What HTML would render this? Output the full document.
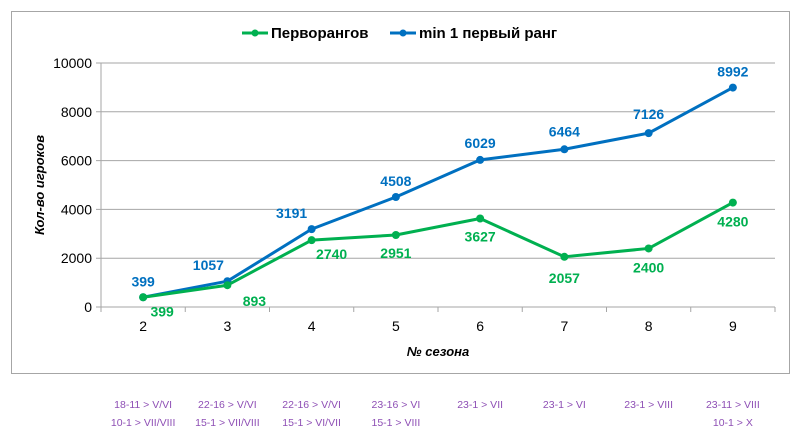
<!DOCTYPE html>
<html><head><meta charset="utf-8"><style>
body{margin:0;background:#fff;}
svg{display:block;font-family:"Liberation Sans","DejaVu Sans",sans-serif;}
</style></head><body>
<svg width="800" height="442" viewBox="0 0 800 442">
<rect x="11.5" y="11.5" width="778" height="362" fill="#fff" stroke="#a6a6a6"/>
<g id="grid"></g><g id="axes"></g><g id="series"></g><g id="labels"></g>
<g font-weight="bold" font-size="15">
<g><line x1="242" y1="33" x2="268" y2="33" stroke="#00b050" stroke-width="3"/><circle cx="255" cy="33" r="3.5" fill="#00b050"/><text x="271" y="38" fill="#000">Перворангов</text></g>
<g><line x1="390" y1="33" x2="416" y2="33" stroke="#0070c0" stroke-width="3"/><circle cx="403" cy="33" r="3.5" fill="#0070c0"/><text x="419" y="38" fill="#000">min 1 первый ранг</text></g>
</g>
<text x="438" y="356" text-anchor="middle" font-size="13" font-weight="bold" font-style="italic">№ сезона</text>
<text transform="translate(44,185) rotate(-90)" text-anchor="middle" font-size="13" font-weight="bold" font-style="italic">Кол-во игроков</text>
<g id="notes" font-size="10.5" fill="#8e4fb5" text-anchor="middle"></g>
</svg>
<script>
const categories=["2","3","4","5","6","7","8","9"];
const firstRank=[399,893,2740,2951,3627,2057,2400,4280];
const minOne=[399,1057,3191,4508,6029,6464,7126,8992];
const yTicks=[0,2000,4000,6000,8000,10000];
const notes1=["18-11 > V/VI","22-16 > V/VI","22-16 > V/VI","23-16 > VI","23-1 > VII","23-1 > VI","23-1 > VIII","23-11 > VIII"];
const notes2=["10-1 > VII/VIII","15-1 > VII/VIII","15-1 > VI/VII","15-1 > VIII","","","","10-1 > X"];
const NS="http://www.w3.org/2000/svg";
const L=101,R=775,T=63,B=307,yMax=10000;
const step=(R-L)/categories.length;
const x=i=>L+step*(i+0.5);
const y=v=>B-(v/yMax)*(B-T);
function mk(p,tag,a){const e=document.createElementNS(NS,tag);for(const k in a)e.setAttribute(k,a[k]);document.getElementById(p).appendChild(e);return e;}
yTicks.forEach(t=>{
 const g=mk("grid","line",{x1:L-5,x2:R,y1:y(t),y2:y(t),stroke:"#a6a6a6"});
 
 
 const tx=mk("axes","text",{x:L-9,y:y(t)+5,"text-anchor":"end","font-size":"14"});tx.textContent=t;
 
 
});
const ax=mk("axes","line",{x1:L,x2:L,y1:T,y2:B,stroke:"#a6a6a6"});


for(let i=0;i<=categories.length;i++){const tk=mk("axes","line",{x1:L+step*i,x2:L+step*i,y1:B,y2:B+5,stroke:"#a6a6a6"});
 
 }
categories.forEach((c,i)=>{const t=mk("axes","text",{x:x(i),y:B+24,"text-anchor":"middle","font-size":"14"});t.textContent=c;
 
 
 const n1=mk("notes","text",{x:x(i),y:408});n1.textContent=notes1[i];
 
 
 if(notes2[i]){const n2=mk("notes","text",{x:x(i),y:426});n2.textContent=notes2[i];
 
 }
});
function series(data,color,name){
 const pl=mk("series","polyline",{points:data.map((v,i)=>x(i)+","+y(v)).join(" "),fill:"none",stroke:color,"stroke-width":"3","stroke-linejoin":"round"});
 
 
 data.forEach((v,i)=>{const c=mk("series","circle",{cx:x(i),cy:y(v),r:4,fill:color});
  
  });
}
series(minOne,"#0070c0","min-one-rank");
series(firstRank,"#00b050","first-rank");
// label offsets
const gOff=[[19,14],[27,16],[20,14],[0,18],[0,18],[0,21],[0,19],[0,19]];
firstRank.forEach((v,i)=>{const t=mk("labels","text",{x:x(i)+gOff[i][0],y:y(v)+gOff[i][1]+5,"text-anchor":"middle","font-size":"14","font-weight":"bold",fill:"#00b050"});t.textContent=v;
 
 });
const bOff=[[0,-16],[-19,-16],[-20,-16],[0,-16],[0,-17],[0,-18],[0,-19],[0,-16]];
minOne.forEach((v,i)=>{const t=mk("labels","text",{x:x(i)+bOff[i][0],y:y(v)+bOff[i][1]+5,"text-anchor":"middle","font-size":"14","font-weight":"bold",fill:"#0070c0"});t.textContent=v;
 
 });
</script>
</body></html>
